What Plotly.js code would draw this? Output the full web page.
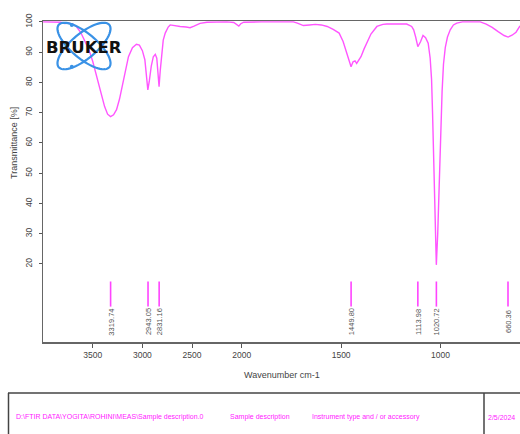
<!DOCTYPE html>
<html>
<head>
<meta charset="utf-8">
<script src="https://cdn.plot.ly/plotly-3.0.1.min.js"></script>
<style>html,body{margin:0;padding:0;background:#fff;}#chart{width:520px;height:434px;}</style>
</head>
<body>
<div id="chart"></div>
<script>
// ---- Data ----
const wavenumber = [4000,3900,3820,3780,3740,3700,3660,3620,3580,3540,3500,3460,3420,3380,3350,3320,3290,3260,3230,3200,3170,3140,3100,3060,3030,3000,2975,2960,2945,2930,2910,2890,2870,2855,2845,2832,2820,2805,2790,2770,2740,2720,2680,2620,2560,2520,2480,2420,2350,2250,2150,2080,2050,2030,2010,1990,1900,1800,1740,1720,1690,1660,1630,1600,1570,1540,1510,1490,1470,1460,1450,1440,1430,1422,1410,1400,1385,1370,1350,1320,1290,1270,1170,1145,1135,1125,1114,1100,1088,1075,1062,1052,1045,1040,1035,1028,1021,1014,1008,1000,992,985,976,965,951,935,918,890,860,800,770,740,710,680,660,640,620,600];
const transmittance = [100,100,99.9,99.5,99.6,99.3,98.3,96.5,94,91,87,82,76.5,72,69.5,68.7,69.3,71,74.5,79,84,88.5,91.5,92.6,92.3,90.5,87.5,83,77.5,80.5,85.5,88.5,89.3,88,84,78.6,84,90,94,96.3,98.3,99,98.9,98.5,98.3,98.1,98.6,99.5,99.9,100,100,99.8,99.2,98.6,99.4,99.9,100,100,100,99.6,98.8,99,99.2,99,98.5,97.5,96.3,93.5,89.6,87.3,85.2,86.8,87.1,86.3,87.5,88.5,91,93,96,98.5,99.2,99.3,99.3,98.5,97.4,95,91.8,93.5,95.5,94.8,93,88,81,70,57.7,38,19.7,30,45,64,77,86,91.5,95,97.4,99,99.6,100,100,100,99.3,98.2,96.8,95.5,95,95.6,96.6,98.7];
const peakPositions = [3319.74,2943.05,2831.16,1449.80,1113.98,1020.72,660.36];
const peakLabels = ['3319.74','2943.05','2831.16','1449.80','1113.98','1020.72','660.36'];
const xTickValues = [3500,3000,2500,2000,1500,1000];
const yTickValues = [20,30,40,50,60,70,80,90,100];
const footerTexts = ['D:\\FTIR DATA\\YOGITA\\ROHINI\\MEAS\\Sample description.0','Sample description','Instrument type and / or accessory','2/5/2024'];

// OPUS-style axis: region above 2000 cm-1 compressed by factor 2
function scaleX(w){ return w > 2000 ? 2000 + (w - 2000) / 2 : w; }

const W = 520, H = 434;
const M = {l: 43, r: 0, t: 21, b: 92};
const PW = W - M.l - M.r, PH = H - M.t - M.b;
const px = x => (x - M.l) / PW;
const py = y => (H - M.b - y) / PH;

const traces = [{
  x: wavenumber.map(scaleX), y: transmittance,
  type: 'scatter', mode: 'lines',
  line: {color: '#ff55ff', width: 1.4},
  hoverinfo: 'skip', showlegend: false
}];
peakPositions.forEach(p => {
  traces.push({
    x: [scaleX(p), scaleX(p)], y: [5.9, 14.2],
    type: 'scatter', mode: 'lines',
    line: {color: '#ff44ff', width: 1.6},
    hoverinfo: 'skip', showlegend: false
  });
});

const annotations = peakPositions.map((p, i) => ({
  x: scaleX(p), y: 0.8, xref: 'x', yref: 'y',
  text: peakLabels[i], textangle: -90, showarrow: false,
  xanchor: 'center', yanchor: 'middle',
  font: {family: 'Liberation Sans, Arial, sans-serif', size: 7.5, color: '#555'}
}));
annotations.push({
  x: px(14), y: py(143), xref: 'paper', yref: 'paper',
  text: 'Transmittance [%]', textangle: -90, showarrow: false,
  xanchor: 'center', yanchor: 'middle',
  font: {family: 'Liberation Sans, Arial, sans-serif', size: 9, color: '#444'}
});
annotations.push({
  x: px(282), y: py(375), xref: 'paper', yref: 'paper',
  text: 'Wavenumber cm-1', showarrow: false,
  xanchor: 'center', yanchor: 'middle',
  font: {family: 'Liberation Sans, Arial, sans-serif', size: 9, color: '#444'}
});
// BRUKER logo text
annotations.push({
  x: px(84), y: py(47), xref: 'paper', yref: 'paper',
  text: '<b>BRUKER</b>', showarrow: false,
  xanchor: 'center', yanchor: 'middle',
  font: {family: 'DejaVu Sans, sans-serif', size: 16.5, color: '#111'}
});
// footer texts
const footerX = [14, 228, 310, 486];
footerTexts.forEach((t, i) => {
  annotations.push({
    x: px(footerX[i]), y: py(417), xref: 'paper', yref: 'paper',
    text: t, showarrow: false, xanchor: 'left', yanchor: 'middle',
    font: {family: 'Liberation Sans, Arial, sans-serif', size: 7, color: '#ff22ff'}
  });
});

// logo ellipses
function ellipsePath(cx, cy, a, b, thDeg){
  const th = thDeg * Math.PI / 180;
  let d = '';
  for (let k = 0; k <= 72; k++) {
    const t = 2 * Math.PI * k / 72;
    const x = cx + a * Math.cos(t) * Math.cos(th) - b * Math.sin(t) * Math.sin(th);
    const y = cy + a * Math.cos(t) * Math.sin(th) + b * Math.sin(t) * Math.cos(th);
    d += (k === 0 ? 'M' : 'L') + px(x).toFixed(5) + ',' + py(y).toFixed(5);
  }
  return d + 'Z';
}
const logoBlue = '#3a92e6';
const shapes = [
  {type: 'path', xref: 'paper', yref: 'paper', path: ellipsePath(84, 46, 33, 12.5, 40), line: {color: logoBlue, width: 2.2}},
  {type: 'path', xref: 'paper', yref: 'paper', path: ellipsePath(84, 46, 33, 12.5, -40), line: {color: logoBlue, width: 2.2}},
  {type: 'circle', xref: 'paper', yref: 'paper', x0: px(69.8), x1: px(73.8), y0: py(27), y1: py(23), fillcolor: logoBlue, line: {width: 0}},
  {type: 'circle', xref: 'paper', yref: 'paper', x0: px(69.8), x1: px(73.8), y0: py(68.7), y1: py(64.7), fillcolor: logoBlue, line: {width: 0}},
  // footer box
  {type: 'line', xref: 'paper', yref: 'paper', x0: px(8), x1: px(521), y0: py(393), y1: py(393), line: {color: '#444', width: 1.5}},
  {type: 'line', xref: 'paper', yref: 'paper', x0: px(8.5), x1: px(8.5), y0: py(393), y1: py(440), line: {color: '#444', width: 1.5}},
  {type: 'line', xref: 'paper', yref: 'paper', x0: px(484), x1: px(484), y0: py(393), y1: py(440), line: {color: '#444', width: 1.5}}
];

const layout = {
  width: W, height: H,
  margin: M,
  paper_bgcolor: '#fff', plot_bgcolor: '#fff',
  showlegend: false,
  xaxis: {
    range: [scaleX(4000), 600], autorange: false,
    tickvals: xTickValues.map(scaleX), ticktext: xTickValues.map(String),
    showgrid: false, zeroline: false,
    showline: true, linecolor: '#666', linewidth: 1.5, mirror: true,
    ticks: 'outside', ticklen: 4, tickcolor: '#555', tickwidth: 1,
    tickfont: {family: 'Liberation Sans, Arial, sans-serif', size: 8.5, color: '#444'}
  },
  yaxis: {
    range: [-5.8, 100.3], autorange: false,
    tickvals: yTickValues, ticktext: yTickValues.map(String),
    tickangle: -90, ticklabelstandoff: 3,
    showgrid: false, zeroline: false,
    showline: true, linecolor: '#666', linewidth: 1.5,
    ticks: 'outside', ticklen: 3, tickcolor: '#555', tickwidth: 1,
    tickfont: {family: 'Liberation Sans, Arial, sans-serif', size: 8.5, color: '#444'}
  },
  annotations: annotations,
  shapes: shapes
};

Plotly.newPlot('chart', traces, layout, {staticPlot: true, displayModeBar: false});
</script>
</body>
</html>
